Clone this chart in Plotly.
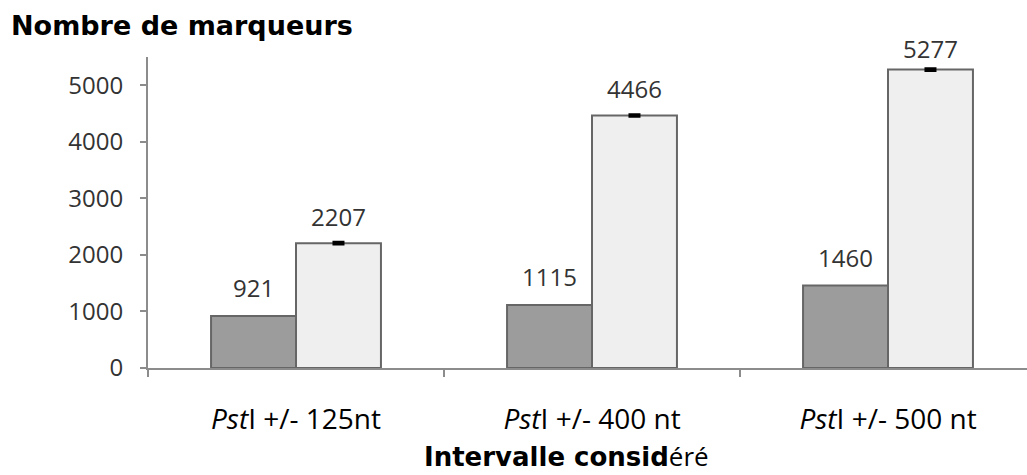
import plotly.graph_objects as go

categories = ["<i>Pst</i>I +/- 125nt", "<i>Pst</i>I +/- 400 nt", "<i>Pst</i>I +/- 500 nt"]
serie_a = [921, 1115, 1460]
serie_b = [2207, 4466, 5277]
erreur_b = [15, 12, 15]

W, H = 1027, 475
L, R, T, B = 148, 0, 57, 107
PW, PH = W - L - R, H - T - B

fig = go.Figure()
fig.add_bar(
    x=categories, y=serie_a, name="A",
    marker=dict(color="#9c9c9c", line=dict(color="#666666", width=2)),
)
fig.add_bar(
    x=categories, y=serie_b, name="B",
    marker=dict(color="#efefef", line=dict(color="#666666", width=2)),
    error_y=dict(type="data", array=erreur_b, visible=True,
                 color="#000000", thickness=3, width=6),
)

# value labels above each bar
half = (1 - 0.426) / 4
lab_font = dict(family="Open Sans", size=24, color="#333333")
for i, (a, b) in enumerate(zip(serie_a, serie_b)):
    fig.add_annotation(x=i - half, y=a, text=str(a), showarrow=False,
                       yshift=28, font=lab_font)
    fig.add_annotation(x=i + half, y=b, text=str(b), showarrow=False,
                       yshift=27 if b < 5000 else 21, font=lab_font)

# x axis title
fig.add_annotation(
    xref="paper", yref="paper", x=(422 - L) / PW, y=(368 - 456) / PH,
    text="<b>Intervalle consid</b><span style=\"font-family:'Open Sans'\">éré</span>",
    showarrow=False, xanchor="left", yanchor="middle",
    font=dict(family="DejaVu Sans", size=26, color="#000000"),
)

fig.update_layout(
    width=W, height=H,
    margin=dict(l=L, r=R, t=T, b=B),
    paper_bgcolor="white", plot_bgcolor="white",
    barmode="group", bargap=0.426, bargroupgap=0,
    showlegend=False,
    title=dict(text="<b>Nombre de marqueurs</b>", xref="container", yref="container",
               x=11 / W, y=1 - 26 / H, xanchor="left", yanchor="middle",
               font=dict(family="DejaVu Sans", size=27, color="#000000")),
    xaxis=dict(
        range=[-0.5, -0.5 + PW / 296],
        showline=True, linecolor="#8c8c8c", linewidth=2,
        ticks="outside", tickson="boundaries", ticklen=7, tickcolor="#8c8c8c", tickwidth=2,
        tickfont=dict(family="Open Sans", size=28, color="#000000"),
        ticklabelstandoff=25, showgrid=False, zeroline=False,
    ),
    yaxis=dict(
        range=[0, 5500], tickvals=[0, 1000, 2000, 3000, 4000, 5000],
        showline=True, linecolor="#8c8c8c", linewidth=2,
        ticks="outside", ticklen=6, tickcolor="#8c8c8c", tickwidth=2,
        tickfont=dict(family="Open Sans", size=24, color="#333333"),
        ticklabelstandoff=12, showgrid=False, zeroline=False,
    ),
)

fig.write_html("out.html")
